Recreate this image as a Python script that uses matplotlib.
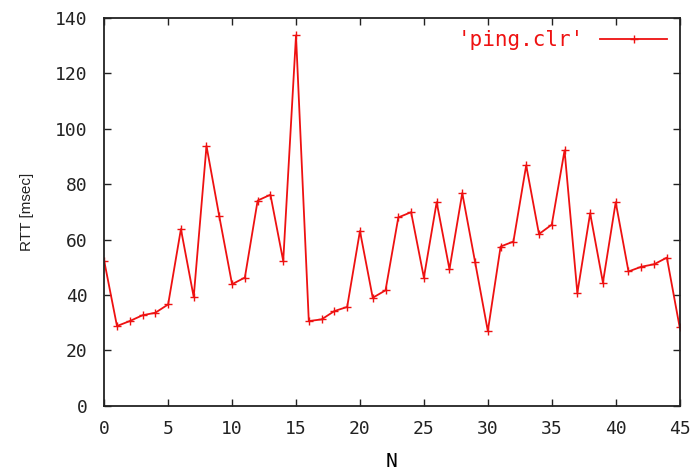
import matplotlib
matplotlib.use("Agg")
from matplotlib import pyplot as plt

# RTT per ping
n = list(range(46))
rtt = [52.3, 28.8, 30.6, 32.7, 33.6, 36.6, 63.8, 39.3, 93.8, 68.4,
       43.9, 46.3, 74.1, 76.2, 52.3, 133.7, 30.6, 31.2, 34.2, 35.7,
       63.1, 39.0, 41.7, 68.0, 69.9, 46.3, 73.5, 49.3, 76.8, 52.0,
       27.0, 57.5, 59.3, 86.8, 62.0, 65.4, 92.2, 40.7, 69.5, 44.5,
       73.5, 48.5, 50.2, 51.1, 53.5, 28.4]

xticks = [0, 5, 10, 15, 20, 25, 30, 35, 40, 45]
yticks = [0, 20, 40, 60, 80, 100, 120, 140]

plt.rcParams['font.family'] = ['DejaVu Sans Mono']

fig = plt.figure(figsize=(6.9, 4.73), dpi=100)
ax = fig.add_axes([0.151, 0.142, 0.834, 0.820])

ax.plot(n, rtt, color="#ee1111", linewidth=1.3, marker="+", markersize=6,
        markeredgewidth=1.0, label="'ping.clr'")

ax.set_xlim(0, 45)
ax.set_ylim(0, 140)
ax.set_xticks(xticks)
ax.set_yticks(yticks)
ax.tick_params(direction="in", top=True, right=True, length=5, width=1,
               labelsize=13, colors="#222222")
ax.tick_params(axis="x", pad=10)
ax.tick_params(axis="y", pad=12)
for s in ax.spines.values():
    s.set_linewidth(1.3)
    s.set_color("#222222")

ax.set_xlabel("N", fontsize=14, labelpad=10)
ax.set_ylabel("RTT [msec]", fontsize=11, labelpad=15,
              family="Liberation Sans", color="#222222")

leg = ax.legend(loc="upper right", frameon=False, markerfirst=False,
                fontsize=15, handlelength=3.2, borderaxespad=0.2,
                handletextpad=0.8)
for t in leg.get_texts():
    t.set_color("#ee1111")

fig.savefig("out.png", dpi=100)
